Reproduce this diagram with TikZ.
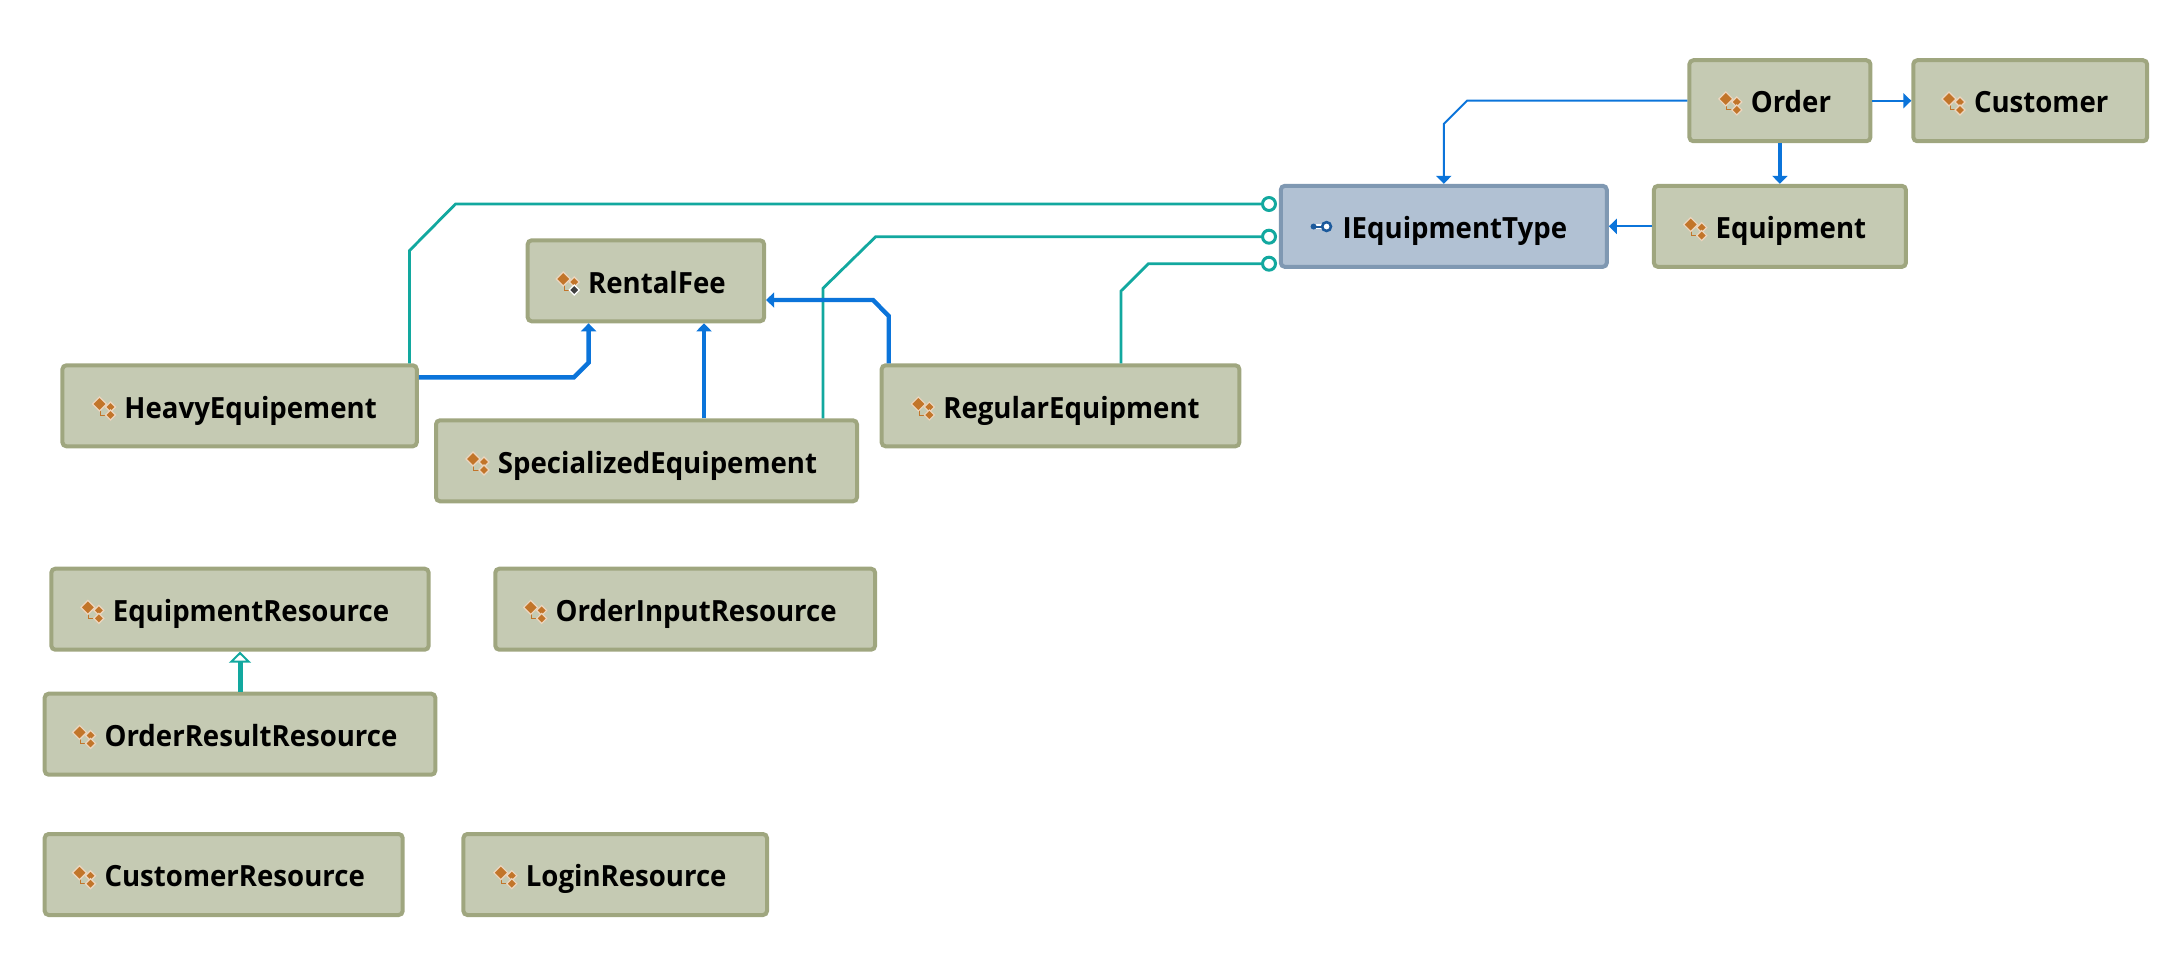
\documentclass[tikz,border=0pt]{standalone}
\usepackage{fontspec}
\setmainfont[FakeStretch=0.945]{Open Sans}
\usetikzlibrary{arrows.meta}

\definecolor{boxfill}{HTML}{C5CAB3}
\definecolor{boxline}{HTML}{9FA67F}
\definecolor{ifacefill}{HTML}{B1C1D3}
\definecolor{ifaceline}{HTML}{7F98B2}
\definecolor{assocblue}{HTML}{0B74DA}
\definecolor{implteal}{HTML}{12A89F}
\definecolor{iconorange}{HTML}{C2752A}
\definecolor{iconblue}{HTML}{1C5A9C}

\tikzset{
  classbox/.style={draw=boxline, fill=boxfill, line width=2pt, rounded corners=2pt,
    minimum height=40.5pt, inner sep=0pt, text height=14pt, text depth=1.8pt,
    font=\fontsize{14.6}{16}\selectfont\bfseries, execute at begin node={\hspace*{11pt}}},
  ifacebox/.style={classbox, draw=ifaceline, fill=ifacefill},
  usesthin/.style={draw=assocblue, line width=1pt, -{Triangle[length=4pt,width=7.5pt]}},
  usesthick/.style={draw=assocblue, line width=2.2pt, -{Triangle[length=4pt,width=7.5pt]}},
  realizes/.style={draw=implteal, line width=1.4pt},
  ball/.style={circle, draw=implteal, fill=white, line width=1.5pt, minimum size=6.5pt, inner sep=0pt},
  diamondbit/.pic={
    \draw[iconorange, line width=.5pt] (-3,-1) -- (-3,7) -- (4,7);
    \filldraw[draw=white!70!iconorange, fill=iconorange, line width=.6pt] (-11,-4) -- (-4,-11) -- (3,-4) -- (-4,3) -- cycle;
    \filldraw[draw=white!70!iconorange, fill=iconorange, line width=.6pt] (7,-6) -- (12,-1) -- (7,4) -- (2,-1) -- cycle;
  },
  classicon/.pic={
    \pic {diamondbit};
    \filldraw[draw=white!70!iconorange, fill=iconorange, line width=.6pt] (7,2) -- (12,7) -- (7,12) -- (2,7) -- cycle;
  },
  fieldicon/.pic={
    \pic {diamondbit};
    \filldraw[draw=white, fill=black!75, line width=.6pt] (7,2) -- (12,7) -- (7,12) -- (2,7) -- cycle;
  },
  keyicon/.pic={
    \draw[white, line width=2.4pt] (-8,0) -- (1,0);
    \draw[iconblue, line width=1pt] (-8,0) -- (1,0);
    \fill[iconblue] (-8,0) circle (3);
    \filldraw[draw=iconblue, fill=white, line width=1.3pt] (5,0) circle (4.4);
  }
}

\begin{document}
\begin{tikzpicture}[x=0.5pt, y=-0.5pt]
  \useasboundingbox (0,0) rectangle (2173,979);

  % top row
  \node[classbox, minimum width=90.5pt] (order) at (1779.9,100.75) {Order};
  \node[classbox, minimum width=116.9pt] (customer) at (2030.2,100.75) {Customer};
  \node[ifacebox, minimum width=163pt] (ietype) at (1443.8,226.35) {IEquipmentType};
  \node[classbox, minimum width=126pt] (equipment) at (1779.9,226.35) {Equipment};

  % equipment kinds
  \node[classbox, minimum width=118.2pt] (rentalfee) at (645.9,280.8) {RentalFee};
  \node[classbox, minimum width=177.2pt] (heavy) at (239.6,405.8) {HeavyEquipement};
  \node[classbox, minimum width=210.5pt] (special) at (646.5,460.8) {SpecializedEquipement};
  \node[classbox, minimum width=178.9pt] (regular) at (1060.5,405.8) {RegularEquipment};

  % resources
  \node[classbox, minimum width=188.7pt] (equipres) at (240,609.2) {EquipmentResource};
  \node[classbox, minimum width=189.9pt] (orderinput) at (685.2,609.2) {OrderInputResource};
  \node[classbox, minimum width=195.3pt] (orderresult) at (240,734.2) {OrderResultResource};
  \node[classbox, minimum width=179pt] (custres) at (223.7,874.5) {CustomerResource};
  \node[classbox, minimum width=151.8pt] (login) at (615.2,874.5) {LoginResource};

  \foreach \n in {order,customer,equipment,heavy,special,regular,equipres,orderinput,orderresult,custres,login}
    \pic at ([shift={(1,-10)}]\n.text) {classicon};
  \pic at ([shift={(1,-10)}]rentalfee.text) {fieldicon};
  \pic at ([shift={(1,-12)}]ietype.text) {keyicon};

  % interface balls
  \node[ball] (ballheavy) at (1269,204) {};
  \node[ball] (ballspecial) at (1269,236.7) {};
  \node[ball] (ballregular) at (1269,263.7) {};

  \coordinate (heavya) at (409.4,250.7);
  \coordinate (heavyb) at (455.5,204);
  \draw[realizes] (heavya |- heavy.north) -- (heavya) -- (heavyb) -- (ballheavy);
  \coordinate (speciala) at (823,288.3);
  \coordinate (specialb) at (875.7,236.7);
  \draw[realizes] (speciala |- special.north) -- (speciala) -- (specialb) -- (ballspecial);
  \coordinate (regulara) at (1121,291);
  \coordinate (regularb) at (1148.4,263.7);
  \draw[realizes] (regulara |- regular.north) -- (regulara) -- (regularb) -- (ballregular);

  % associations
  \coordinate (orderla) at (1467,100.75);
  \coordinate (orderlb) at (1443.8,124);
  \draw[usesthin] (order.west) -- (orderla) -- (orderlb) -- (ietype.north);
  \draw[usesthin] (order.east) -- (customer.west);
  \draw[usesthick] (order.south) -- (equipment.north);
  \draw[usesthin] (equipment.west) -- (ietype.east);

  \coordinate (feea) at (573.9,377.3);
  \coordinate (feeb) at (588.6,362.7);
  \draw[usesthick] (heavy.east |- feea) -- (feea) -- (feeb) -- (feeb |- rentalfee.south);
  \coordinate (feec) at (704,323);
  \draw[usesthick] (feec |- special.north) -- (feec |- rentalfee.south);
  \coordinate (feed) at (888.7,316);
  \coordinate (feee) at (873,300);
  \draw[usesthick] (feed |- regular.north) -- (feed) -- (feee) -- (rentalfee.east |- feee);

  % inheritance
  \draw[draw=implteal, line width=2.5pt, -{Triangle[open,length=5.5pt,width=11pt,line width=1pt,fill=white]}]
    (orderresult.north) -- (equipres.south);
\end{tikzpicture}
\end{document}
